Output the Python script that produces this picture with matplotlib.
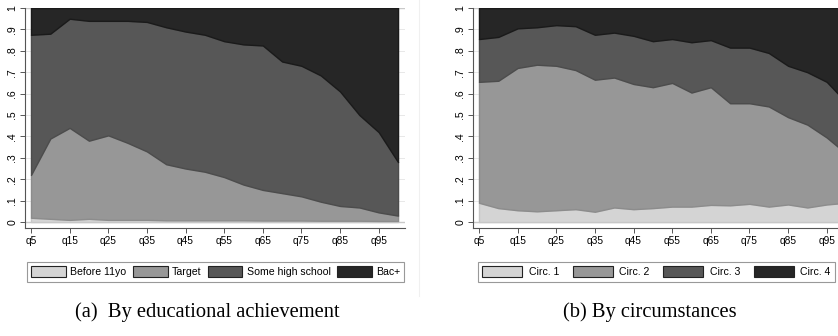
import matplotlib.pyplot as plt
from matplotlib.lines import Line2D

plt.rcParams['font.family'] = ['Liberation Sans', 'DejaVu Sans']

quantiles = list(range(5, 101, 5))
xtick_pos = list(range(5, 100, 10))
xtick_labels = ['q%d' % q for q in xtick_pos]
ytick_pos = [i / 10 for i in range(11)]
ytick_labels = ['0', '.1', '.2', '.3', '.4', '.5', '.6', '.7', '.8', '.9', '1']

# (a) cumulative shares (top of each band)
edu_before11 = [0.02, 0.015, 0.01, 0.015, 0.01, 0.01, 0.01, 0.008, 0.008, 0.008,
                0.008, 0.008, 0.007, 0.007, 0.007, 0.006, 0.006, 0.006, 0.005, 0.005]
edu_target = [0.22, 0.39, 0.44, 0.38, 0.405, 0.37, 0.33, 0.27, 0.25, 0.235,
              0.21, 0.175, 0.15, 0.135, 0.12, 0.095, 0.075, 0.068, 0.045, 0.03]
edu_highschool = [0.875, 0.88, 0.95, 0.94, 0.94, 0.94, 0.935, 0.91, 0.89, 0.875,
                  0.845, 0.83, 0.825, 0.75, 0.73, 0.685, 0.61, 0.50, 0.42, 0.28]
edu_names = ['Before 11yo', 'Target', 'Some high school', 'Bac+']

# (b) cumulative shares (top of each band)
circ1 = [0.09, 0.065, 0.055, 0.05, 0.055, 0.06, 0.048, 0.068, 0.06, 0.065,
         0.072, 0.072, 0.08, 0.078, 0.085, 0.072, 0.082, 0.068, 0.082, 0.09]
circ2 = [0.655, 0.66, 0.72, 0.735, 0.73, 0.71, 0.665, 0.675, 0.645, 0.63,
         0.65, 0.605, 0.63, 0.555, 0.555, 0.54, 0.49, 0.455, 0.395, 0.32]
circ3 = [0.855, 0.865, 0.905, 0.91, 0.92, 0.915, 0.875, 0.885, 0.87, 0.845,
         0.855, 0.84, 0.85, 0.815, 0.815, 0.79, 0.73, 0.70, 0.655, 0.56]
circ_names = ['Circ. 1', 'Circ. 2', 'Circ. 3', 'Circ. 4']

fills = ['#d4d4d4', '#979797', '#575757', '#262626']
edges = ['#c6c6c6', '#8c8c8c', '#4c4c4c', '#1a1a1a']


def draw_panel(ax, tops, names, legend_xy, handle_len, col_space, text_pad,
               caption, caption_x):
    lower = [0] * len(quantiles)
    for i, top in enumerate(tops + [[1] * len(quantiles)]):
        ax.fill_between(quantiles, lower, top, facecolor=fills[i],
                        edgecolor=edges[i], linewidth=1.0, zorder=2, label=names[i])
        lower = top
    ax.set_xlim(3.45, 101.8)
    ax.set_ylim(-0.028, 1.0)
    ax.set_yticks(ytick_pos)
    ax.set_yticklabels(ytick_labels, rotation=90, va='center', fontsize=7.6)
    ax.set_xticks(xtick_pos)
    ax.set_xticklabels(xtick_labels, fontsize=7.3)
    ax.tick_params(length=3.5, width=0.7, color='#555555', pad=2)
    ax.yaxis.grid(True, color='#e4e4e4', linewidth=0.6, zorder=0)
    ax.axhline(0, color='#444444', linewidth=0.8, zorder=1)
    ax.axhline(1, color='#444444', linewidth=0.8, zorder=1)
    for side in ['top', 'right']:
        ax.spines[side].set_visible(False)
    for side in ['left', 'bottom']:
        ax.spines[side].set_color('#555555')
        ax.spines[side].set_linewidth(0.8)
    leg = ax.legend(loc='upper left', bbox_to_anchor=legend_xy,
                    bbox_transform=fig.transFigure, borderaxespad=0, ncol=4,
                    fontsize=7.6, handlelength=handle_len, handleheight=1.25,
                    handletextpad=text_pad, columnspacing=col_space, borderpad=0.4,
                    fancybox=False, edgecolor='#999999', framealpha=1)
    leg.get_frame().set_linewidth(0.8)
    for h in leg.legend_handles:
        h.set_edgecolor('#222222')
        h.set_linewidth(0.8)
    fig.text(caption_x, 0.071, caption, ha='center', va='center',
             fontsize=14.8, family=['Liberation Serif', 'DejaVu Serif'])


fig = plt.figure(figsize=(8.38, 3.36), dpi=100)
ax1 = fig.add_axes([25 / 838, 108 / 336, 380 / 838, 220 / 336])
ax2 = fig.add_axes([473 / 838, 108 / 336, 380 / 838, 220 / 336])

draw_panel(ax1, [edu_before11, edu_target, edu_highschool], edu_names,
           (27 / 838, 74 / 336), 3.3, 0.6, 0.4,
           '(a)  By educational achievement', 207 / 838)
draw_panel(ax2, [circ1, circ2, circ3], circ_names,
           (478 / 838, 74 / 336), 3.8, 1.3, 0.6,
           '(b) By circumstances', 650 / 838)

fig.add_artist(Line2D([419 / 838, 419 / 838], [0.12, 1.0], color='#f0f0f0',
                      linewidth=0.8))

fig.savefig('out.png', dpi=100)
